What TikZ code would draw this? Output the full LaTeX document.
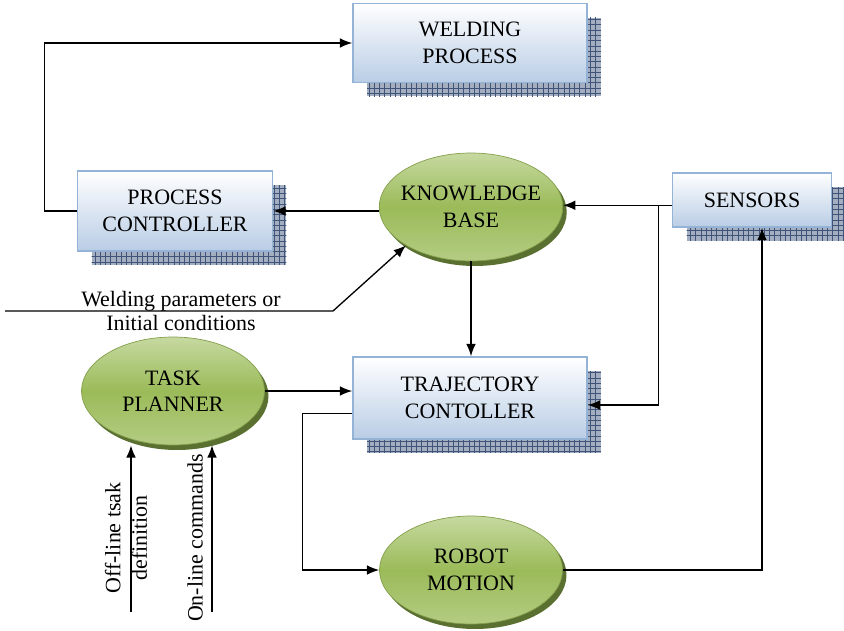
\documentclass[tikz,border=0pt]{standalone}
\usepackage{fontspec}
\setmainfont{Liberation Serif}
\usetikzlibrary{shapes.geometric,patterns,arrows.meta}
\definecolor{boxblue}{HTML}{B9CDE5}
\definecolor{boxline}{HTML}{95B3D7}
\definecolor{shadowblue}{HTML}{A3AEC0}
\definecolor{gridblue}{HTML}{3F5478}
\definecolor{elllight}{HTML}{C6D9A0}
\definecolor{ellgreen}{HTML}{9BBB59}
\definecolor{ellshadow}{HTML}{5A7030}

\begin{document}
\begin{tikzpicture}[x=0.02cm,y=-0.02cm,
  font=\fontsize{12.5}{15}\selectfont,
  arr/.style={-{Latex[length=7pt,width=5.5pt]}, line width=0.75pt},
  blockbox/.style={rectangle, draw=boxline, line width=0.9pt, top color=white, bottom color=boxblue, align=center,
    preaction={fill=shadowblue, transform canvas={xshift=0.28cm,yshift=-0.28cm}},
    preaction={pattern=grid, pattern color=gridblue, transform canvas={xshift=0.28cm,yshift=-0.28cm}}},
  planet/.style={ellipse, draw=ellgreen!85!black, line width=0.4pt, top color=elllight, bottom color=ellgreen!75!white, middle color=ellgreen,
    minimum width=3.66cm, minimum height=2.16cm, inner xsep=-3pt, align=center,
    preaction={fill=ellshadow, transform canvas={xshift=0.08cm,yshift=-0.1cm}}}]
\useasboundingbox (0,0) rectangle (844,631);

\node[blockbox, minimum width=4.68cm, minimum height=1.58cm] (weld) at (470,43) {WELDING\\PROCESS};
\node[blockbox, minimum width=3.9cm, minimum height=1.6cm] (pctrl) at (175,211) {PROCESS\\CONTROLLER};
\node[blockbox, minimum width=3.18cm, minimum height=1.08cm] (sens) at (752,200) {SENSORS};
\node[blockbox, minimum width=4.68cm, minimum height=1.64cm] (tctrl) at (470,398) {TRAJECTORY\\CONTOLLER};
\node[planet] (kb) at (471,207) {KNOWLEDGE\\BASE};
\node[planet] (tp) at (173,391) {TASK\\PLANNER};
\node[planet] (rm) at (471,570) {ROBOT\\MOTION};

\node[align=center, font=\fontsize{12.5}{14.2}\selectfont] (wplabel) at (181,311) {Welding parameters or\\Initial conditions};
\node[rotate=90, align=center] (offlabel) at (126,538) {Off-line tsak\\definition};
\node[rotate=90] (onlabel) at (195,538) {On-line commands};

\coordinate (wpin) at (5,311);
\coordinate (offin) at (131,612);
\coordinate (onin) at (212,612);

\draw[arr] (pctrl.west) -- ++(-32,0) |- (weld.west);
\draw[arr] (pctrl.east -| kb.west) -- (pctrl.east);
\draw[arr] ([yshift=-3pt]sens.west) -- ([yshift=-3pt]sens.west -| kb.east);
\draw[arr] ([yshift=-3pt]sens.west) ++(-13,0) |- ([yshift=-4pt]tctrl.east);
\draw[arr] (kb.south) -- (kb.south |- tctrl.north);
\draw[arr] (wpin) -- (333,311) -- (kb.south west);
\draw[arr] (tp.east) -- (tp.east -| tctrl.west);
\draw[arr] ([yshift=-9pt]tctrl.west) -- ++(-50,0) |- (rm.west);
\draw[arr] (rm.east) -| ([xshift=5.7pt]sens.south);
\draw[arr] (offin) -- (offin |- tp.south);
\draw[arr] (onin) -- (onin |- tp.south);
\end{tikzpicture}
\end{document}
